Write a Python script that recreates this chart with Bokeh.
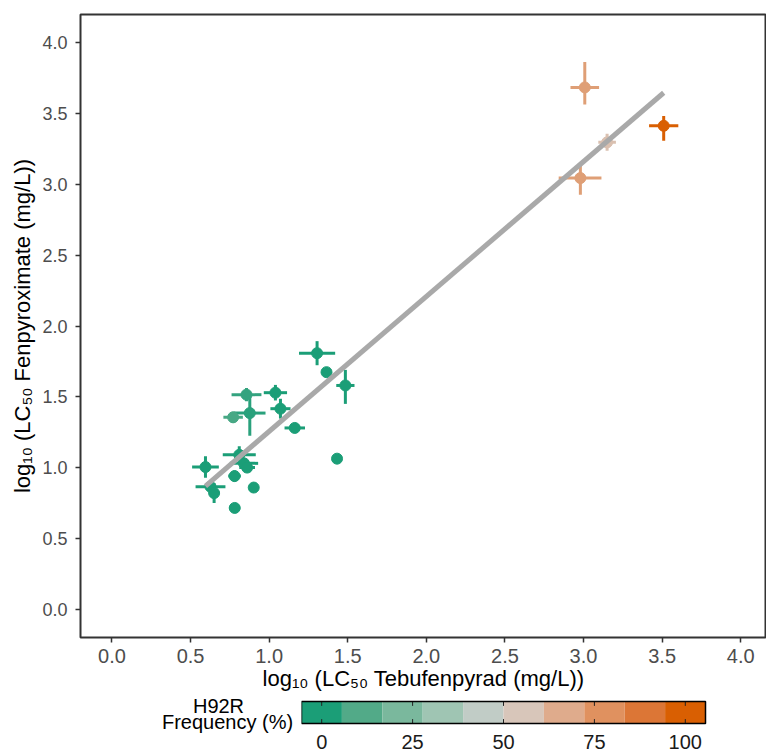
import numpy as np
from bokeh.plotting import figure
from bokeh.layouts import column, row
from bokeh.models import Range1d, FixedTicker, PrintfTickFormatter
from bokeh.embed import file_html
from bokeh.resources import INLINE
from bokeh.core.properties import value

# ---- data ----
tebufenpyrad = [1.305, 1.365, 1.485, 0.856, 1.040, 1.072, 0.877, 0.771, 1.163, 1.432,
                0.595, 0.810, 0.840, 0.860, 0.780, 0.902, 0.627, 0.650, 0.781,
                3.008, 3.510, 3.150, 2.980]
fenpyroximate = [1.808, 1.674, 1.580, 1.515, 1.529, 1.416, 1.385, 1.355, 1.280, 1.063,
                 1.004, 1.090, 1.030, 1.000, 0.940, 0.859, 0.865, 0.820, 0.715,
                 3.685, 3.414, 3.297, 3.045]
tebu_err_lo = [0.115, 0.030, 0.058, 0.095, 0.074, 0.064, 0.100, 0.062, 0.065, 0.010,
               0.085, 0.105, 0.090, 0.050, 0.040, 0.020, 0.095, 0.030, 0.035,
               0.091, 0.093, 0.056, 0.138]
tebu_err_hi = [0.115, 0.030, 0.058, 0.095, 0.074, 0.064, 0.100, 0.062, 0.065, 0.010,
               0.085, 0.105, 0.090, 0.050, 0.040, 0.020, 0.095, 0.030, 0.035,
               0.091, 0.093, 0.056, 0.134]
fenp_err_lo = [0.085, 0.035, 0.130, 0.047, 0.055, 0.070, 0.160, 0.040, 0.020, 0.010,
               0.076, 0.060, 0.030, 0.030, 0.040, 0.020, 0.040, 0.070, 0.020,
               0.120, 0.106, 0.060, 0.118]
fenp_err_hi = [0.085, 0.035, 0.110, 0.047, 0.055, 0.070, 0.120, 0.040, 0.020, 0.010,
               0.076, 0.060, 0.030, 0.030, 0.040, 0.020, 0.040, 0.070, 0.020,
               0.180, 0.070, 0.060, 0.099]
h92r_freq = [0, 0, 0, 5, 0, 0, 3, 9, 0, 0,
             0, 0, 0, 0, 0, 0, 0, 0, 0,
             72, 100, 58, 72]

axis_ticks = [0.0, 0.5, 1.0, 1.5, 2.0, 2.5, 3.0, 3.5, 4.0]
legend_ticks = [0, 25, 50, 75, 100]
legend_tick_labels = ["0", "25", "50", "75", "100"]
legend_palette = ["#1b9e77", "#52aa88", "#7ab89d", "#9fc5b3", "#c1ccc6",
                  "#d8c6ba", "#dfab8c", "#e0915f", "#dc7636", "#d95f02"]
legend_title = ["H92R", "Frequency (%)"]

FONT = "Liberation Sans"


def hex_to_rgb(h):
    return tuple(int(h[i:i + 2], 16) for i in (1, 3, 5))


def freq_color(f):
    pos = f / 100.0 * (len(legend_palette) - 1)
    i = min(int(pos), len(legend_palette) - 2)
    t = pos - i
    a = hex_to_rgb(legend_palette[i])
    b = hex_to_rgb(legend_palette[i + 1])
    c = [round(a[k] + (b[k] - a[k]) * t) for k in range(3)]
    return "#%02x%02x%02x" % tuple(c)


x = np.array(tebufenpyrad)
y = np.array(fenpyroximate)
colors = [freq_color(f) for f in h92r_freq]

# ---- main figure ----
p = figure(frame_width=686, frame_height=623,
           x_range=Range1d(-0.2, 4.164), y_range=Range1d(-0.2, 4.2),
           output_backend="svg", toolbar_location=None,
           min_border_left=80, min_border_right=0, min_border_top=14, min_border_bottom=56)
p.background_fill_color = "white"
p.border_fill_color = "white"
p.outline_line_color = "#333333"
p.outline_line_width = 2
p.grid.visible = False

# error bars
p.segment(x0=x - np.array(tebu_err_lo), x1=x + np.array(tebu_err_hi), y0=y, y1=y,
          line_color=colors, line_width=3)
p.segment(x0=x, x1=x, y0=y - np.array(fenp_err_lo), y1=y + np.array(fenp_err_hi),
          line_color=colors, line_width=3)
# points
p.scatter(x, y, size=11, fill_color=colors, line_color=colors, line_width=1)

# linear fit
slope, intercept = np.polyfit(x, y, 1)
xf = np.array([x.min(), x.max()])
p.line(xf, slope * xf + intercept, line_color="#a9a9a9", line_width=5)

for ax in (p.xaxis[0], p.yaxis[0]):
    ax.ticker = FixedTicker(ticks=axis_ticks)
    ax.formatter = PrintfTickFormatter(format="%.1f")
    ax.minor_tick_line_color = None
    ax.axis_line_color = None
    ax.major_tick_line_color = "#333333"
    ax.major_tick_line_width = 1.5
    ax.major_tick_out = 5
    ax.major_tick_in = 0
    ax.major_label_text_font = FONT
    ax.major_label_text_color = "#4d4d4d"
    ax.axis_label_text_font = FONT
    ax.axis_label_text_font_style = "normal"
    ax.axis_label_text_color = "black"
    ax.axis_label_text_font_size = "22px"

p.xaxis.axis_label = "log\u2081\u2080 (LC\u2085\u2080 Tebufenpyrad (mg/L))"
p.yaxis.axis_label = "log\u2081\u2080 (LC\u2085\u2080 Fenpyroximate (mg/L))"
p.xaxis.major_label_text_font_size = "20px"
p.yaxis.major_label_text_font_size = "18px"
p.xaxis.major_label_standoff = 6
p.xaxis.axis_label_standoff = 0
p.yaxis.major_label_standoff = 8
p.yaxis.axis_label_standoff = 4

# ---- legend title figure (pixel coordinates, bottom = 0) ----
tfig = figure(frame_width=301, frame_height=63, x_range=Range1d(0, 301), y_range=Range1d(0, 63),
              output_backend="svg", toolbar_location=None,
              min_border_left=0, min_border_right=0, min_border_top=0, min_border_bottom=0,
              x_axis_location=None, y_axis_location=None)
tfig.outline_line_color = None
tfig.grid.visible = False
tfig.text(x=[218, 227], y=[50.5, 35.0], text=legend_title, text_align="center",
          text_baseline="alphabetic",
          text_font=value(FONT), text_font_size=value("20px"), text_color="black")

# ---- colour bar figure (x in frequency units, bar spans y 0..1) ----
n = len(legend_palette)
half = 50.0 / (n - 1)
centers = np.linspace(0, 100, n)
px_per_unit = 404.0 / (100 + 2 * half)
bar_px = 22.0
cfig = figure(frame_width=465, frame_height=63,
              x_range=Range1d(-half, -half + 465 / px_per_unit),
              y_range=Range1d(-33 / bar_px, 1 + 8 / bar_px),
              output_backend="svg", toolbar_location=None,
              min_border_left=0, min_border_right=0, min_border_top=0, min_border_bottom=0,
              x_axis_location=None, y_axis_location=None)
cfig.grid.visible = False
cfig.outline_line_color = None
cfig.quad(left=centers - half, right=centers + half, bottom=0, top=1,
          fill_color=legend_palette, line_color=None)
lt = np.array(legend_ticks, dtype=float)
cfig.segment(x0=lt, x1=lt, y0=0, y1=0.2, line_color="#222222", line_width=1)
cfig.segment(x0=lt, x1=lt, y0=0.8, y1=1, line_color="#222222", line_width=1)
cfig.quad(left=[-half], right=[100 + half], bottom=[0], top=[1],
          fill_color=None, line_color="black", line_width=1.5)
cfig.text(x=lt, y=-18 / bar_px, text=legend_tick_labels, text_align="center",
          text_baseline="alphabetic",
          text_font=value(FONT), text_font_size=value("20px"), text_color="#1a1a1a")

layout = column(p, row(tfig, cfig))
open("out.html", "w").write(file_html(layout, INLINE))
